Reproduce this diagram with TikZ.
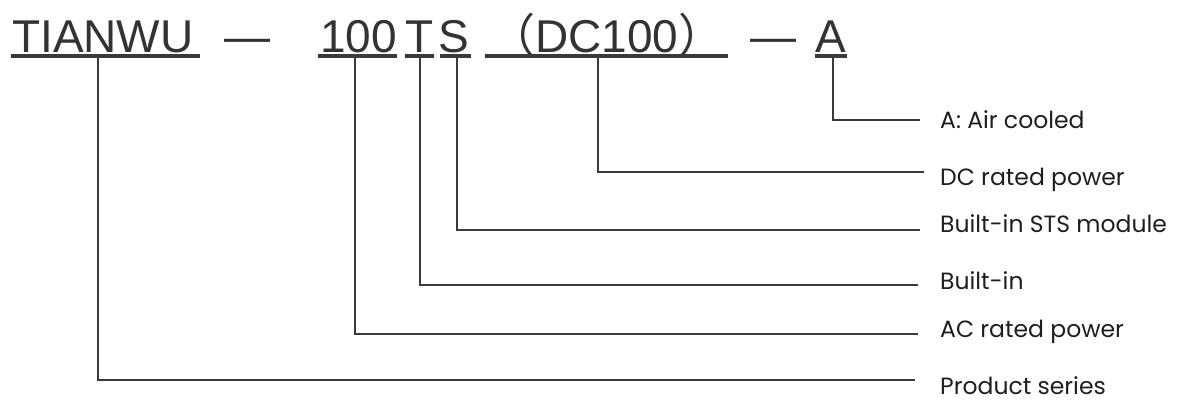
\documentclass[tikz,border=0pt]{standalone}
\usepackage{fontspec}
\newfontfamily\codefont{Liberation Sans}
\newfontfamily\cjkfont{Noto Sans CJK SC}
\newfontfamily\labelfont{Poppins}
\definecolor{codegray}{HTML}{333333}
\definecolor{linegray}{HTML}{3A3A3A}
\definecolor{labelblack}{HTML}{1E1E1E}

\begin{document}
\begin{tikzpicture}[x=1pt,y=-1pt,
  code/.style={anchor=base west,inner sep=0pt,text=codegray,
    font=\codefont\fontsize{46}{50}\selectfont},
  uline/.style={draw=linegray,line width=3.4pt},
  conn/.style={draw=linegray,line width=2.6pt},
  lab/.style={anchor=base west,inner sep=0pt,text=labelblack,
    font=\labelfont\fontsize{23.5}{26}\selectfont}]
  \useasboundingbox (0,0) rectangle (1177,399);
  % model code
  \node[code] (tianwu) at (12,52) {TIANWU};
  \node[code] (dasha)  at (224,52) {—};
  \node[code] (power)  at (320,52) {100};
  \node[code] (bltin)  at (405,52) {T};
  \node[code] (sts)    at (438,52) {S};
  \node[code] (dc)     at (489,52) {{\cjkfont （}DC100{\cjkfont ）}};
  \node[code] (dashb)  at (750,52) {—};
  \node[code] (cool)   at (815,52) {A};
  % underlines
  \foreach \a/\b in {11/200, 318/397, 405/434, 440/471, 485/728, 815/847} {
    \draw[uline] (\a,56) -- (\b,56);
  }
  % meanings
  \foreach \n/\y/\t in {cool/128/A: Air cooled, dc/185/DC rated power,
                        sts/232/Built-in STS module, bltin/289/Built-in,
                        power/337/AC rated power, tianwu/394/Product series} {
    \node[lab] (l-\n) at (940,\y) {\t};
  }
  % connectors
  \foreach \n/\x/\ly/\ex in {cool/833/120/920, dc/598/172/924, sts/457/230/920,
                             bltin/420/285/918, power/355/334/918, tianwu/98/380/915} {
    \coordinate (t-\n) at (\x,56);
    \coordinate (e-\n) at (\ex,\ly);
    \draw[conn] (t-\n) |- (e-\n);
  }
\end{tikzpicture}
\end{document}
